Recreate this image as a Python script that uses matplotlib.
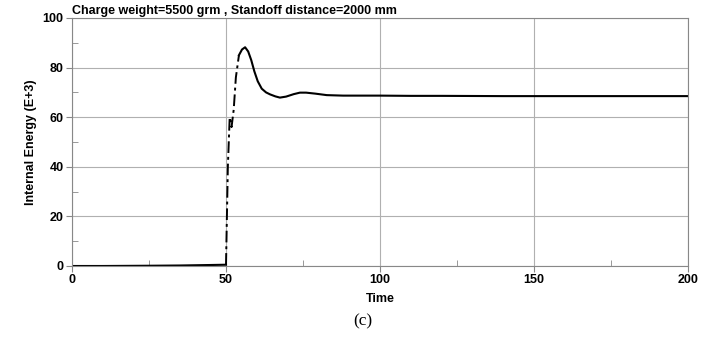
import matplotlib
matplotlib.use("Agg")
import matplotlib.pyplot as plt
from matplotlib.ticker import MultipleLocator

title = "Charge weight=5500 grm , Standoff distance=2000 mm"
xlabel = "Time"
ylabel = "Internal Energy (E+3)"
caption = "(c)"

# pre-rise (solid)
t_pre = [0, 10, 25, 35, 45, 49.5, 50]
e_pre = [0, 0, 0.1, 0.2, 0.4, 0.5, 0.5]
# rise (dash-dot)
t_rise = [50, 50.6, 51.2, 51.8, 52.5, 53.2, 54.2]
e_rise = [0.5, 40, 60, 56, 63, 76, 85]
# post-peak (solid)
t_post = [54.2, 55.2, 56.2, 57.2, 58.2, 59.2, 60.3, 61.6, 63.0, 64.3, 66.0, 67.5, 69.5, 72, 74, 76, 79, 82.7, 88, 93.5, 100, 110, 120, 140, 160, 180, 200]
e_post = [85, 87.3, 88.2, 86.5, 83, 78.5, 74.5, 71.5, 70, 69.2, 68.4, 67.9, 68.3, 69.3, 69.9, 69.9, 69.5, 68.9, 68.7, 68.7, 68.7, 68.6, 68.6, 68.5, 68.5, 68.5, 68.5]

plt.rcParams['font.family'] = ['Liberation Sans', 'DejaVu Sans']
fig = plt.figure(figsize=(7.25, 3.37), dpi=100)
ax = fig.add_axes([0.0993, 0.2107, 0.8497, 0.7359])

ax.plot(t_pre, e_pre, color='black', lw=1.5)
ax.plot(t_rise, e_rise, color='black', lw=1.4, linestyle=(0, (6, 2, 1.5, 2)))
ax.plot(t_post, e_post, color='black', lw=1.5)

ax.set_xlim(0, 200)
ax.set_ylim(0, 100)
ax.xaxis.set_major_locator(MultipleLocator(50))
ax.xaxis.set_minor_locator(MultipleLocator(25))
ax.yaxis.set_major_locator(MultipleLocator(20))
ax.yaxis.set_minor_locator(MultipleLocator(10))
ax.grid(True, which='major', color='#b0b0b0', lw=0.8)
ax.tick_params(which='major', direction='out', length=4, color='#888888', labelsize=9, pad=2)
ax.tick_params(which='minor', direction='in', length=4, color='#888888')
for lab in ax.get_xticklabels() + ax.get_yticklabels():
    lab.set_fontweight('bold')
for s in ax.spines.values():
    s.set_color('#888888')
    s.set_linewidth(0.8)

ax.set_xlabel(xlabel, fontsize=9, fontweight='bold', labelpad=5)
ax.set_ylabel(ylabel, fontsize=9, fontweight='bold', labelpad=4)
ax.set_title(title, fontsize=9, fontweight='bold', loc='left', pad=3)
fig.text(0.5, 0.045, caption, ha='center', va='center', fontsize=12.5, family='Liberation Serif')

fig.savefig('out.png', dpi=100)
